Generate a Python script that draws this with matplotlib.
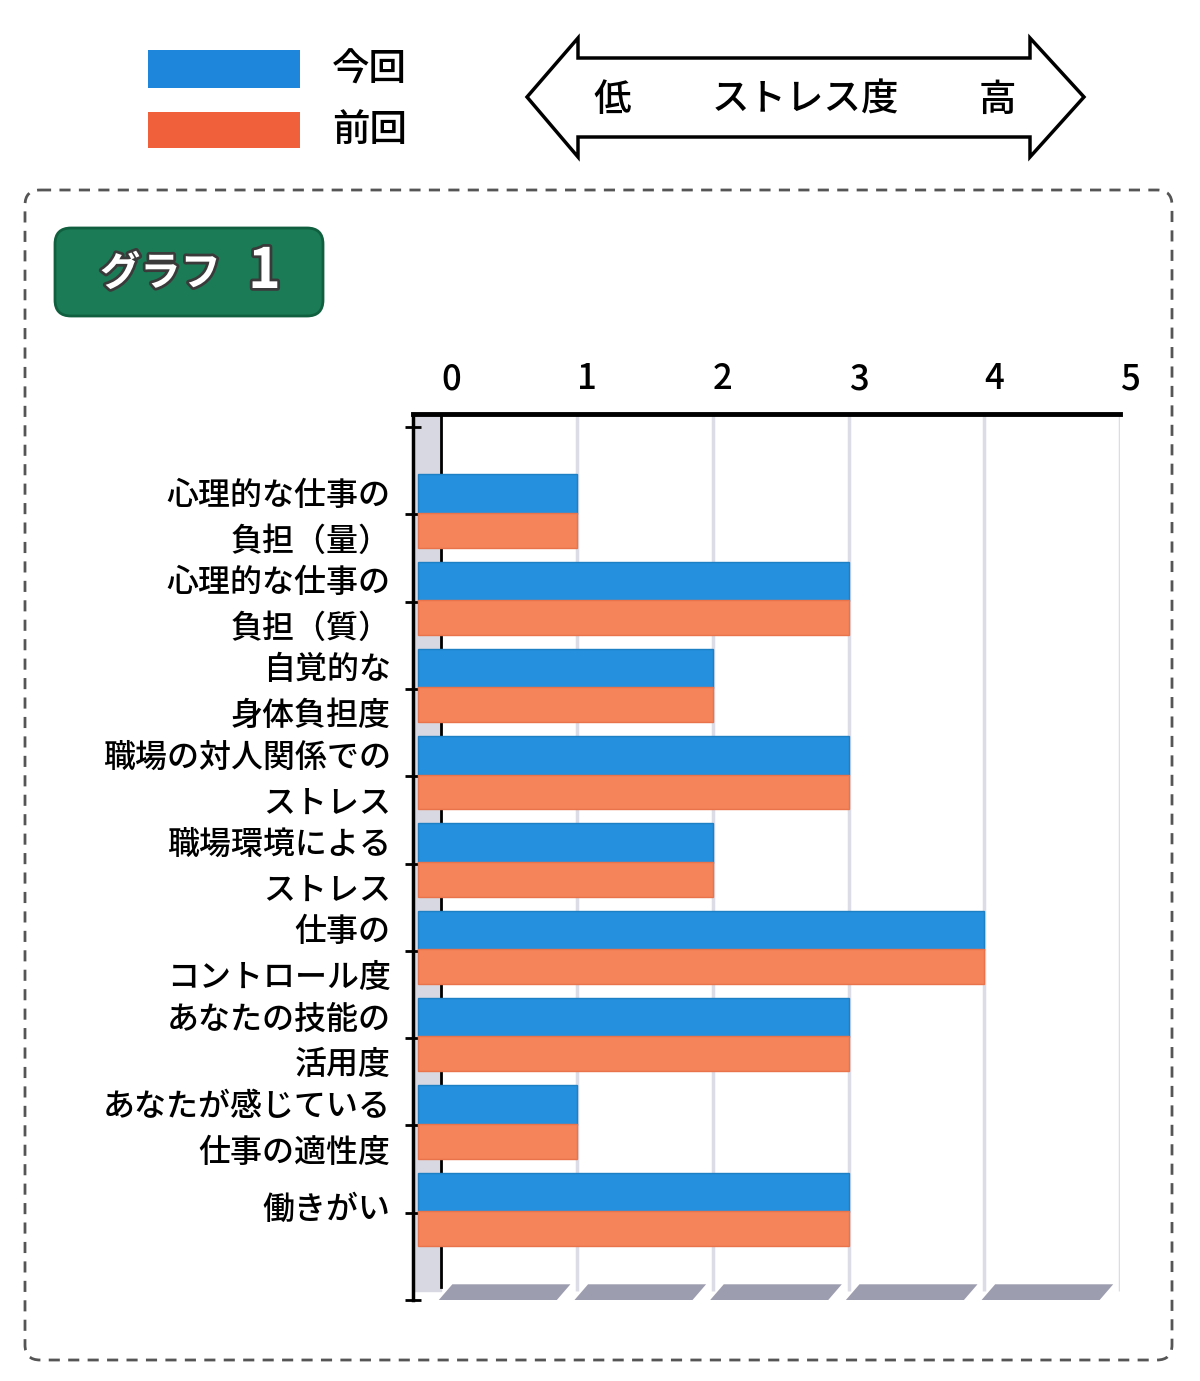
import numpy as np
import matplotlib.pyplot as plt
import matplotlib.patheffects as pe
from matplotlib.patches import Rectangle, FancyBboxPatch, Polygon
from matplotlib.transforms import ScaledTranslation

plt.rcParams['font.family'] = ['Noto Sans CJK JP', 'DejaVu Sans']
plt.rcParams['font.weight'] = 'medium'

# data
categories = [
    '心理的な仕事の\n負担（量）',
    '心理的な仕事の\n負担（質）',
    '自覚的な\n身体負担度',
    '職場の対人関係での\nストレス',
    '職場環境による\nストレス',
    '仕事の\nコントロール度',
    'あなたの技能の\n活用度',
    'あなたが感じている\n仕事の適性度',
    '働きがい',
]
this_time = [1, 3, 2, 3, 2, 4, 3, 1, 3]   # 今回
last_time = [1, 3, 2, 3, 2, 4, 3, 1, 3]   # 前回
x_ticks = [0, 1, 2, 3, 4, 5]
legend_labels = ['今回', '前回']

BLUE = '#2590de'
ORANGE = '#f5845a'
W, H = 1200, 1381

fig = plt.figure(figsize=(12, 13.81), dpi=100)

# --- decoration layer in pixel coordinates ---
bg = fig.add_axes([0, 0, 1, 1])
bg.set_xlim(0, W)
bg.set_ylim(H, 0)
bg.axis('off')

# legend
bg.add_patch(Rectangle((148, 50), 152, 38, fc='#1e86db', ec='none'))
bg.add_patch(Rectangle((148, 112), 152, 36, fc='#f0603a', ec='none'))
bg.text(332, 70, legend_labels[0], fontsize=27, va='center', ha='left')
bg.text(332, 130, legend_labels[1], fontsize=27, va='center', ha='left')

# double arrow "stress level"
arrow_pts = [(527, 97), (578, 38), (578, 58), (1030, 58), (1030, 38),
             (1084, 97), (1030, 157), (1030, 137), (578, 137), (578, 157)]
bg.add_patch(Polygon(arrow_pts, closed=True, fc='white', ec='black', lw=2.5))
bg.text(612, 100, '低', fontsize=27, ha='center', va='center')
bg.text(805, 100, 'ストレス度', fontsize=27, ha='center', va='center')
bg.text(997, 100, '高', fontsize=27, ha='center', va='center')

# dashed frame
bg.add_patch(FancyBboxPatch((25, 190), 1147, 1170,
                            boxstyle='round,pad=0,rounding_size=15',
                            fill=False, ec='#555555', lw=2, ls=(0, (4, 3))))

# green badge
bg.add_patch(FancyBboxPatch((55, 228), 268, 88,
                            boxstyle='round,pad=0,rounding_size=16',
                            fc='#1b7b56', ec='#10603f', lw=2))
shadow = [pe.withStroke(linewidth=4, foreground='#3a3a3a')]
bg.text(100, 274, 'グラフ', fontsize=29, color='white', weight='bold',
        ha='left', va='center', path_effects=shadow)
bg.text(248, 272, '1', fontsize=40, color='white', weight='bold',
        ha='left', va='center', path_effects=shadow)

# --- chart ---
ax = fig.add_axes([413 / W, (H - 1300) / H, (1120 - 413) / W, (1300 - 414) / H])
ax.patch.set_alpha(0)
pos = np.arange(1, len(categories) + 1)
wall = 0.17

# 3d-ish side wall, floor and gridlines
ax.fill_betweenx([-0.15, 9.9], -0.21, 0, color='#d8d8e2', zorder=0)
ax.plot([0, 0], [-0.15, 9.85], color='black', lw=2, zorder=1)
ax.vlines(x_ticks[1:], -0.15, 9.9, color='#dcdce6', lw=2.5, zorder=0)
for i in x_ticks[:-1]:
    ax.add_patch(Polygon([(i - 0.02, 10.0), (i + 0.85, 10.0),
                          (i + 0.95, 9.82), (i + 0.08, 9.82)],
                         closed=True, fc='#9d9db0', ec='none', zorder=1,
                         clip_on=False))

ax.barh(pos - 0.235, np.array(this_time) + wall, height=0.45, left=-wall,
        color=BLUE, edgecolor='#1d7fc4', lw=1, zorder=3)
ax.barh(pos + 0.18, np.array(last_time) + wall, height=0.40, left=-wall,
        color=ORANGE, edgecolor='#e9734a', lw=1, zorder=3)

ax.set_xlim(-0.21, 5)
ax.set_ylim(10, -0.15)

ax.xaxis.tick_top()
ax.set_xticks(x_ticks)
ax.set_xticklabels([str(t) for t in x_ticks], fontsize=25)
ax.tick_params(axis='x', length=0, pad=12)
for lab in ax.get_xticklabels():
    lab.set_transform(lab.get_transform() + ScaledTranslation(0.1, 0, fig.dpi_scale_trans))

ax.set_yticks(range(11))
ax.set_yticklabels([''] + categories + [''], fontsize=23, linespacing=1.55)
ax.tick_params(axis='y', direction='inout', length=12, width=2, pad=10)
for lab in ax.get_yticklabels():
    lab.set_transform(lab.get_transform() + ScaledTranslation(0, 0.06, fig.dpi_scale_trans))

for s in ['right', 'bottom']:
    ax.spines[s].set_visible(False)
ax.spines['left'].set_linewidth(2.5)
ax.spines['top'].set_linewidth(3.5)

fig.savefig('out.png', dpi=100, facecolor='white')
